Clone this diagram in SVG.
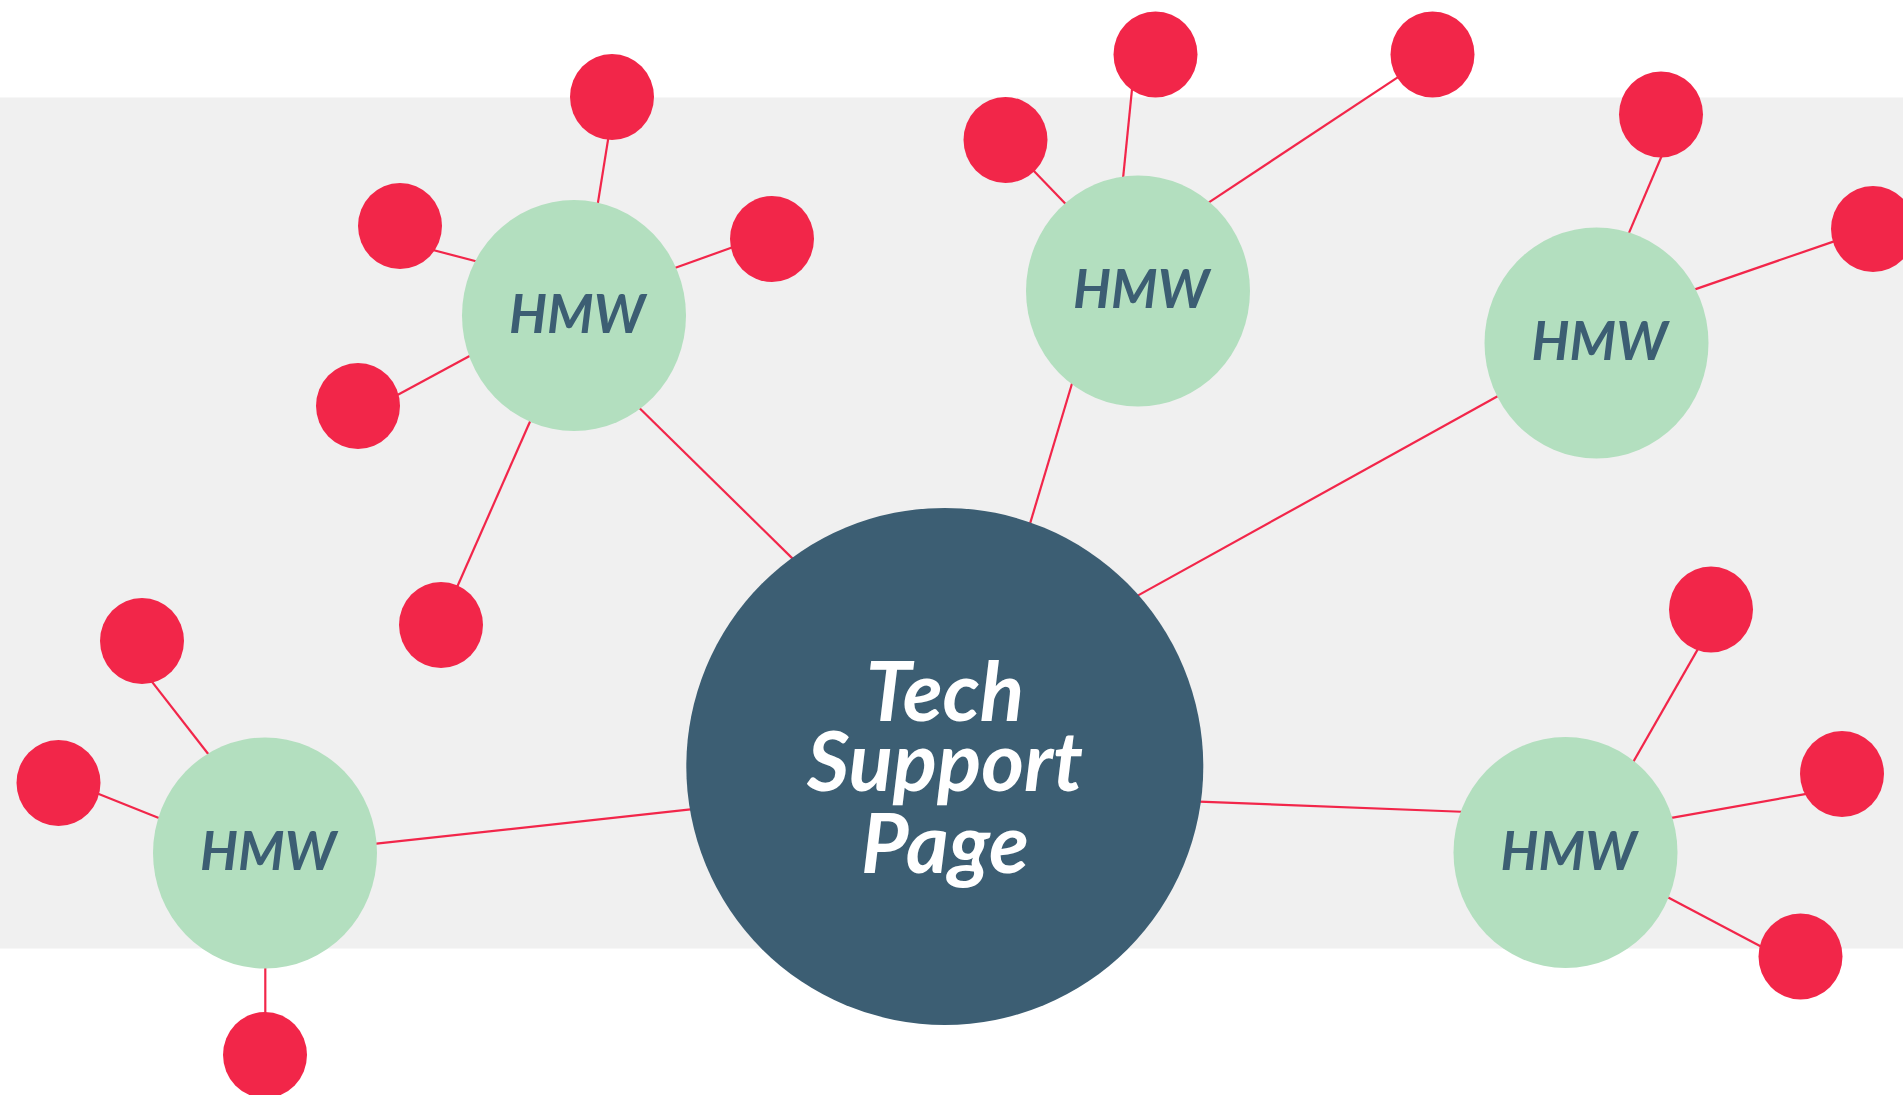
<svg xmlns="http://www.w3.org/2000/svg" width="1903" height="1095" viewBox="0 0 1903 1095">
<style>
.bg{fill:#ffffff}
.band{fill:#f0f0f0}
.ln{stroke:#f2264a;stroke-width:2.2;fill:none}
.main{fill:#3c5e73}
.hmw{fill:#b3dfbf}
.leaf{fill:#f22649}
.ht{font-family:Lato,"Open Sans","Liberation Sans",sans-serif;font-weight:700;font-style:italic;font-size:53px;fill:#3c5e73;text-anchor:middle}
.mt{font-family:Lato,"Open Sans","Liberation Sans",sans-serif;font-weight:700;font-style:italic;font-size:82px;fill:#ffffff;text-anchor:middle}
</style>
<rect class="bg" x="0" y="0" width="1903" height="1095"/>
<rect class="band" x="0" y="97.5" width="1903" height="851"/>
<g id="connectors">
<line class="ln" x1="634.3" y1="403" x2="797.7" y2="563.6"/>
<line class="ln" x1="1028" y1="530.4" x2="1073.9" y2="377.3"/>
<line class="ln" x1="1131.8" y1="598.9" x2="1503.9" y2="392.8"/>
<line class="ln" x1="697.4" y1="808.6" x2="369.5" y2="844.4"/>
<line class="ln" x1="1192.8" y1="801.4" x2="1468" y2="812"/>
<line class="ln" x1="596.7" y1="210.5" x2="609.3" y2="131.8"/>
<line class="ln" x1="482.7" y1="263" x2="425.3" y2="248"/>
<line class="ln" x1="668.5" y1="270.3" x2="738.9" y2="245"/>
<line class="ln" x1="475.6" y1="352.7" x2="390.5" y2="398.8"/>
<line class="ln" x1="532.8" y1="415.2" x2="454.8" y2="592.3"/>
<line class="ln" x1="1070.5" y1="209.1" x2="1029.1" y2="165.9"/>
<line class="ln" x1="1122.4" y1="184.7" x2="1132.8" y2="81.3"/>
<line class="ln" x1="1202.9" y1="206.4" x2="1403.7" y2="73.3"/>
<line class="ln" x1="1625.9" y1="240.1" x2="1664.1" y2="150.3"/>
<line class="ln" x1="1688.4" y1="291.6" x2="1840.6" y2="239.1"/>
<line class="ln" x1="212.9" y1="760" x2="147.8" y2="676.4"/>
<line class="ln" x1="165.7" y1="820.7" x2="91.9" y2="791.3"/>
<line class="ln" x1="265.3" y1="960" x2="265.3" y2="1020"/>
<line class="ln" x1="1630" y1="767.6" x2="1701.3" y2="643.1"/>
<line class="ln" x1="1664.4" y1="819.1" x2="1813.6" y2="792.6"/>
<line class="ln" x1="1661.6" y1="894" x2="1767.1" y2="949.7"/>
</g>
<g id="main-node">
<circle class="main" cx="944.8" cy="766.4" r="258.5"/>
<text class="mt" x="945" y="721">Tech</text>
<text class="mt" x="945" y="791">Support</text>
<text class="mt" x="945" y="873">Page</text>
</g>
<g id="hmw-1"><ellipse class="hmw" cx="574" cy="315.5" rx="112" ry="115.5"/><text class="ht" x="577" y="332.5">HMW</text></g>
<g id="hmw-2"><ellipse class="hmw" cx="1138" cy="291" rx="112" ry="115.5"/><text class="ht" x="1141" y="308">HMW</text></g>
<g id="hmw-3"><ellipse class="hmw" cx="1596.5" cy="343" rx="112" ry="115.5"/><text class="ht" x="1599.5" y="360">HMW</text></g>
<g id="hmw-4"><ellipse class="hmw" cx="265" cy="853" rx="112" ry="115.5"/><text class="ht" x="268" y="870">HMW</text></g>
<g id="hmw-5"><ellipse class="hmw" cx="1565.5" cy="852.5" rx="112" ry="115.5"/><text class="ht" x="1568.5" y="869.5">HMW</text></g>
<g id="leaf-a"><ellipse class="leaf" cx="612" cy="97" rx="42" ry="43"/></g>
<g id="leaf-b"><ellipse class="leaf" cx="400" cy="226" rx="42" ry="43"/></g>
<g id="leaf-c"><ellipse class="leaf" cx="772" cy="239" rx="42" ry="43"/></g>
<g id="leaf-d"><ellipse class="leaf" cx="358" cy="406" rx="42" ry="43"/></g>
<g id="leaf-e"><ellipse class="leaf" cx="441" cy="625" rx="42" ry="43"/></g>
<g id="leaf-f"><ellipse class="leaf" cx="1005.5" cy="140" rx="42" ry="43"/></g>
<g id="leaf-g"><ellipse class="leaf" cx="1155.5" cy="54.5" rx="42" ry="43"/></g>
<g id="leaf-h"><ellipse class="leaf" cx="1432.5" cy="54.5" rx="42" ry="43"/></g>
<g id="leaf-i"><ellipse class="leaf" cx="1661" cy="114.5" rx="42" ry="43"/></g>
<g id="leaf-j"><ellipse class="leaf" cx="1873" cy="229" rx="42" ry="43"/></g>
<g id="leaf-k"><ellipse class="leaf" cx="142" cy="641" rx="42" ry="43"/></g>
<g id="leaf-l"><ellipse class="leaf" cx="58.5" cy="783" rx="42" ry="43"/></g>
<g id="leaf-m"><ellipse class="leaf" cx="265" cy="1055" rx="42" ry="43"/></g>
<g id="leaf-n"><ellipse class="leaf" cx="1711" cy="609.5" rx="42" ry="43"/></g>
<g id="leaf-o"><ellipse class="leaf" cx="1842" cy="774" rx="42" ry="43"/></g>
<g id="leaf-p"><ellipse class="leaf" cx="1800.5" cy="956.5" rx="42" ry="43"/></g>
</svg>
